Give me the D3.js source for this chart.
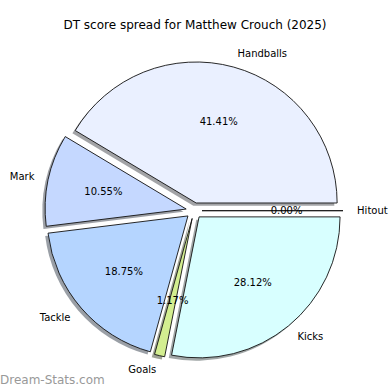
<!DOCTYPE html>
<html>
<head>
<meta charset="utf-8">
<script src="https://cdn.jsdelivr.net/npm/d3@7"></script>
<style>
  body { margin: 0; background: #fff; }
  svg { display: block; font-family: "DejaVu Sans", sans-serif; }
</style>
</head>
<body>
<svg width="390" height="390"></svg>
<script>
var svg = d3.select("svg");

var title = "DT score spread for Matthew Crouch (2025)";
var categories = ["Handballs", "Mark", "Tackle", "Goals", "Kicks", "Hitout"];
var values = [106, 27, 48, 3, 72, 0];
var colors = ["#eaf0ff", "#c5d8ff", "#b5d5ff", "#d3ee90", "#d8ffff", "#e0e0ff"];

var cx = 194;
var cy = 210.7;
var radius = 141;
var explode = 8;
var shadowOff = 2.8;

var total = d3.sum(values);

// matplotlib style: start at 3 o'clock, go counterclockwise
var pie = d3.pie().sort(null).value(function (d) { return d; })
    .startAngle(Math.PI / 2).endAngle(Math.PI / 2 - 2 * Math.PI);
var arcs = pie(values);
var arc = d3.arc().innerRadius(0).outerRadius(radius);

function offset(d, dist) {
	var mid = (d.startAngle + d.endAngle) / 2;
	return [Math.sin(mid) * dist, -Math.cos(mid) * dist];
}

function tr(x, y) {
	return "translate(" + x + ", " + y + ")";
}

// python style %.2f (ties go to even)
function pct(v) {
	var x = v / total * 10000;
	var f = Math.floor(x);
	var r = (Math.abs(x - f - 0.5) < 1e-9) ? (f % 2 === 0 ? f : f + 1) : Math.round(x);
	return (r / 100).toFixed(2) + "%";
}

var g = svg.append("g").attr("transform", tr(cx, cy));

// shadows
g.selectAll(".shadow").data(arcs).enter().append("path")
    .attr("class", "shadow")
    .attr("d", arc)
    .attr("transform", function (d) {
	    var o = offset(d, explode);
	    return tr(o[0] - shadowOff, o[1] + shadowOff);
    })
    .attr("fill", function (d, i) {
	    var c = d3.rgb(colors[i]);
	    return d3.rgb(c.r * 0.3, c.g * 0.3, c.b * 0.3);
    })
    .attr("fill-opacity", 0.5)
    .attr("stroke", "none");

// wedges
g.selectAll(".wedge").data(arcs).enter().append("path")
    .attr("class", "wedge")
    .attr("d", arc)
    .attr("transform", function (d) {
	    var o = offset(d, explode);
	    return tr(o[0], o[1]);
    })
    .attr("fill", function (d, i) { return colors[i]; })
    .attr("stroke", "#111")
    .attr("stroke-width", 0.9)
    .attr("stroke-linejoin", "miter");

// labels
arcs.forEach(function (d, i) {
	var o = offset(d, explode);
	var mid = (d.startAngle + d.endAngle) / 2;
	var lx = o[0] + Math.sin(mid) * radius * 1.1;
	var ly = o[1] - Math.cos(mid) * radius * 1.1;
	g.append("text")
	    .attr("x", lx)
	    .attr("y", ly)
	    .attr("dy", "0.35em")
	    .attr("text-anchor", lx > 0 ? "start" : "end")
	    .attr("font-size", 10)
	    .attr("fill", "#000")
	    .text(categories[i]);

	var px = o[0] + Math.sin(mid) * radius * 0.6;
	var py = o[1] - Math.cos(mid) * radius * 0.6;
	g.append("text")
	    .attr("x", px)
	    .attr("y", py)
	    .attr("dy", "0.35em")
	    .attr("text-anchor", "middle")
	    .attr("font-size", 10)
	    .attr("fill", "#000")
	    .text(pct(values[i]));
});

svg.append("text")
    .attr("x", 195)
    .attr("y", 25)
    .attr("dy", "0.35em")
    .attr("text-anchor", "middle")
    .attr("font-size", 12)
    .attr("fill", "#000")
    .text(title);

svg.append("text")
    .attr("x", 0)
    .attr("y", 384)
    .attr("font-size", 12)
    .attr("fill", "#999")
    .text("Dream-Stats.com");
</script>
</body>
</html>
